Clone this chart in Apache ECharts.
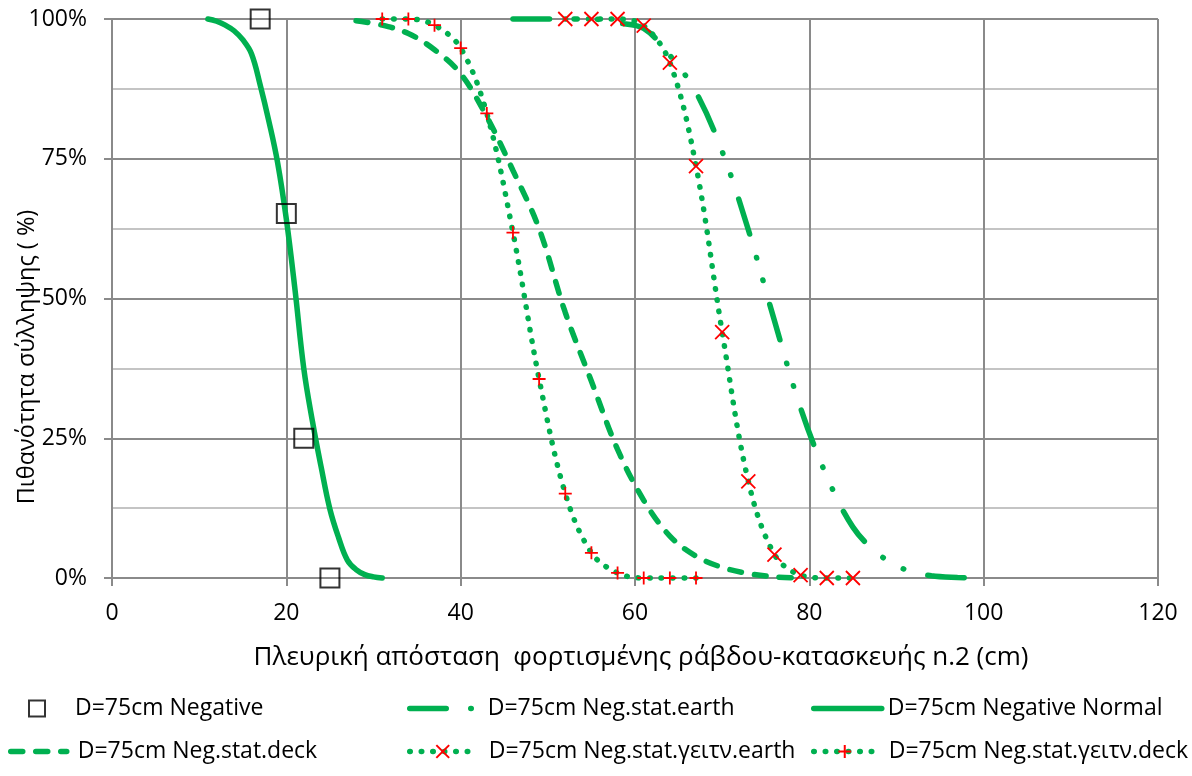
<!DOCTYPE html>
<html><head><meta charset="utf-8">
<script src="https://cdn.jsdelivr.net/npm/echarts@6/dist/echarts.min.js"></script>
<style>html,body{margin:0;padding:0;background:#fff}#c{width:1192px;height:776px}</style>
</head><body><div id="c"></div>
<script>
// axis settings / tick labels
const xMin = 0, xMax = 120, xStep = 20;
const yMin = 0, yMax = 100, yStep = 25;
const xTickLabels = ['0', '20', '40', '60', '80', '100', '120'];
const yTickLabels = ['0%', '25%', '50%', '75%', '100%'];
const xTitle = 'Πλευρική απόσταση  φορτισμένης ράβδου-κατασκευής n.2 (cm)';
const yTitle = 'Πιθανότητα σύλληψης ( %)';

// series names
const nameNeg = 'D=75cm Negative';
const nameEarth = 'D=75cm Neg.stat.earth';
const nameNormal = 'D=75cm Negative Normal';
const nameDeck = 'D=75cm Neg.stat.deck';
const nameGEarth = 'D=75cm Neg.stat.γειτν.earth';
const nameGDeck = 'D=75cm Neg.stat.γειτν.deck';

// series values (x in cm, y in %)
const negX = [17, 20, 22, 25];
const negY = [100, 65.2, 25, 0];

const normalX = [11, 12, 13, 14, 15, 16, 17, 18, 19, 20, 21, 22, 23, 24, 25, 26, 27, 28, 29, 30, 31];
const normalY = [100, 99.6, 98.9, 97.9, 96.3, 93.8, 88.2, 81.7, 74.3, 64.2, 51.5, 37.5, 28.0, 19.8, 12.3, 7.2, 3.2, 1.5, 0.6, 0.2, 0];

const deckX = [28, 31, 34, 37, 40, 43, 46, 49, 52, 55, 58, 61, 64, 67, 70, 73, 76, 79];
const deckY = [99.7, 98.9, 97.4, 94.5, 90.2, 82.5, 72.9, 62.5, 47.5, 35.2, 23.0, 13.9, 7.5, 3.9, 1.9, 0.8, 0.2, 0];

const earthX = [46, 49, 52, 55, 58, 61, 64, 67, 70, 73, 76, 79, 82, 85, 88, 91, 94, 97, 100];
const earthY = [100, 100, 100, 100, 99.3, 98.3, 93.5, 86.9, 76.3, 62.3, 46.0, 30.4, 18.2, 9.1, 4.2, 1.5, 0.4, 0.1, 0];

const gEarthX = [52, 55, 58, 61, 64, 67, 70, 73, 76, 79, 82, 85];
const gEarthY = [100, 100, 100, 98.8, 92.2, 73.7, 44.0, 17.3, 4.2, 0.5, 0, 0];

const gDeckX = [31, 34, 37, 40, 43, 46, 49, 52, 55, 58, 61, 64, 67];
const gDeckY = [100, 100, 98.9, 94.8, 83.1, 61.8, 35.6, 15.1, 4.5, 0.9, 0, 0, 0];

const zip = (xs, ys) => xs.map((x, i) => [x, ys[i]]);

const F = "'Open Sans', 'Noto Sans', sans-serif";
const GREEN = '#00b050';
const RED = '#ff0000';
const GRID_DARK = '#8a8a8a';
const GRID_LIGHT = '#c4c4c4';

const DASH_DECK = [12, 13];
const DASH_EARTH = [36.5, 24.5, 0.5, 23, 0.5, 25];
const DASH_DOT = [0.5, 11];

const chart = echarts.init(document.getElementById('c'), null, {renderer: 'canvas'});

function leg(name, left, top, w, pad, hideSym, lw, dash) {
  const o = {
    data: [name], left: left, top: top, itemWidth: w, itemHeight: 16, padding: 0,
    selectedMode: false,
    textStyle: {fontSize: 23, color: '#000', fontFamily: F, padding: [0, 0, 0, pad]}
  };
  if (hideSym) o.itemStyle = {opacity: 0};
  if (lw) o.lineStyle = {width: lw, type: dash || 'solid', cap: 'round', color: GREEN};
  return o;
}

const option = {
  animation: false,
  backgroundColor: '#fff',
  textStyle: {fontFamily: F},
  grid: {left: 112, top: 19, width: 1046, height: 559, containLabel: false},
  xAxis: {
    type: 'value', min: xMin, max: xMax, interval: xStep,
    axisLine: {show: true, onZero: false, lineStyle: {color: GRID_DARK, width: 2}},
    axisTick: {show: true, length: 8, lineStyle: {color: GRID_DARK, width: 2}},
    axisLabel: {
      margin: 24, fontSize: 23, color: '#000', fontFamily: F,
      formatter: v => xTickLabels[Math.round((v - xMin) / xStep)]
    },
    splitLine: {show: true, lineStyle: {color: GRID_DARK, width: 2}}
  },
  yAxis: {
    type: 'value', min: yMin, max: yMax, interval: yStep,
    axisLine: {show: true, lineStyle: {color: GRID_DARK, width: 2}},
    axisTick: {show: true, length: 8, lineStyle: {color: GRID_DARK, width: 2}},
    axisLabel: {
      margin: 25, fontSize: 23, color: '#000', fontFamily: F,
      formatter: v => yTickLabels[Math.round((v - yMin) / yStep)]
    },
    splitLine: {show: true, lineStyle: {color: GRID_DARK, width: 2}},
    minorTick: {show: false, splitNumber: 2},
    minorSplitLine: {show: true, lineStyle: {color: GRID_LIGHT, width: 2}}
  },
  legend: [
    leg(nameNeg, 28, 697, 16, 25, false),
    leg(nameEarth, 407, 697, 70, 3, true, 5.5, DASH_EARTH),
    leg(nameNormal, 811, 697, 68, 1, true, 5.5),
    leg(nameDeck, 8, 740, 56, 6, true, 5.5, DASH_DECK),
    leg(nameGEarth, 407, 740, 66, 8, false, 5.5, DASH_DOT),
    leg(nameGDeck, 811, 740, 62, 8, false, 5.5, DASH_DOT)
  ],
  graphic: [
    {type: 'text', x: 641, y: 658, style: {text: xTitle, fontSize: 26, fontFamily: F, fill: '#000', textAlign: 'center', textVerticalAlign: 'middle'}},
    {type: 'text', x: 27, y: 357, rotation: Math.PI / 2, style: {text: yTitle, fontSize: 23.5, fontFamily: F, fill: '#000', textAlign: 'center', textVerticalAlign: 'middle'}}
  ],
  series: [
    {
      name: nameDeck, type: 'line', data: zip(deckX, deckY), smooth: 0.35, clip: false,
      symbol: 'none', itemStyle: {color: GREEN},
      lineStyle: {color: GREEN, width: 5.5, type: DASH_DECK, cap: 'round'}
    },
    {
      name: nameEarth, type: 'line', data: zip(earthX, earthY), smooth: 0.35, clip: false,
      symbol: 'none', itemStyle: {color: GREEN},
      lineStyle: {color: GREEN, width: 5.5, type: DASH_EARTH, cap: 'round'}
    },
    {
      name: nameNormal, type: 'line', data: zip(normalX, normalY), smooth: 0.4, clip: false,
      symbol: 'none', itemStyle: {color: GREEN},
      lineStyle: {color: GREEN, width: 5.5, type: 'solid', cap: 'round'}
    },
    {
      name: nameGEarth, type: 'line', data: zip(gEarthX, gEarthY), smooth: 0.35, clip: false,
      symbol: 'path://M0,0L10,10M10,0L0,10', symbolSize: 14, showAllSymbol: true,
      itemStyle: {color: 'rgba(0,0,0,0)', borderColor: RED, borderWidth: 1.8},
      lineStyle: {color: GREEN, width: 5.5, type: DASH_DOT, cap: 'round'},
      z: 3
    },
    {
      name: nameGDeck, type: 'line', data: zip(gDeckX, gDeckY), smooth: 0.35, clip: false,
      symbol: 'path://M5,0L5,10M0,5L10,5', symbolSize: 13, showAllSymbol: true,
      itemStyle: {color: 'rgba(0,0,0,0)', borderColor: RED, borderWidth: 1.8},
      lineStyle: {color: GREEN, width: 5.5, type: DASH_DOT, cap: 'round'},
      z: 3
    },
    {
      name: nameNeg, type: 'scatter', data: zip(negX, negY), clip: false,
      symbol: 'rect', symbolSize: 19,
      itemStyle: {color: 'rgba(0,0,0,0)', borderColor: '#000', borderWidth: 2},
      z: 4
    }
  ]
};
chart.setOption(option);
</script>
</body></html>
